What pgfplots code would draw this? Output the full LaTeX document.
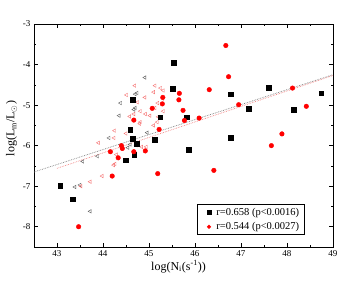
\documentclass[border=0pt]{standalone}
\usepackage{fontspec}
\setmainfont{Liberation Serif}
\usepackage{pgfplots}
\pgfplotsset{compat=1.18}
\definecolor{tri1}{RGB}{90,90,90}
\definecolor{tri2}{RGB}{245,110,110}
\definecolor{line2}{RGB}{240,130,130}
\begin{document}
\begin{tikzpicture}[x=1pt,y=1pt]
\path[use as bounding box] (-34,-35) rectangle (320,247);
\begin{axis}[
  at={(0,0)}, anchor=south west,
  scale only axis, width=299pt, height=223pt,
  xmin=42.5, xmax=49, ymin=-8.5, ymax=-3,
  xtick={43,44,45,46,47,48,49},
  ytick={-8,-7,-6,-5,-4,-3},
  minor x tick num=1, minor y tick num=1,
  tick align=inside,
  major tick length=4pt, minor tick length=2.2pt,
  axis line style={line width=0.8pt},
  every tick/.style={line width=0.6pt, black},
  /pgf/number format/assume math mode=true,
  tick label style={font=\fontsize{9}{10}\selectfont},
  xlabel={log(N\textsubscript{i}(s\textsuperscript{-1}))},
  ylabel={log(L\textsubscript{m}/L\textsubscript{$\odot$})},
  label style={font=\fontsize{12}{13}\selectfont},
  xlabel style={yshift=3pt, xshift=-5pt},
  ylabel style={yshift=-1pt, xshift=7pt},
  legend style={at={(0.545,0.054)}, anchor=south west, font=\fontsize{10.5}{12}\selectfont, draw=black, line width=0.5pt, row sep=1.5pt, inner xsep=3pt, inner ysep=1.5pt},
  legend image code/.code={\path (-0.3cm,0) (0.18cm,0); \draw[#1,mark size=1.8pt] plot coordinates {(0cm,0cm)};},
  legend cell align=left,
  clip=false,
]
\addplot[tri1, only marks, mark=triangle, mark size=2pt, mark options={rotate=90, line width=0.4pt}, forget plot] coordinates {
(44.91,-4.32) (44.74,-4.70) (44.70,-4.73) (44.38,-4.95) (44.70,-5.07) (44.67,-5.11)
(44.35,-5.26) (44.96,-5.68) (44.13,-5.81) (44.54,-6.05) (43.88,-6.26) (43.56,-6.39)
(43.50,-6.97) (43.39,-7.02) (43.72,-7.62) (44.59,-5.97)
};
\addplot[tri2, only marks, mark=triangle, mark size=2pt, mark options={rotate=90, line width=0.4pt}, forget plot] coordinates {
(44.69,-4.52) (45.13,-4.52) (45.25,-4.58) (45.31,-4.64) (45.10,-4.68) (44.91,-4.81)
(44.51,-4.75) (45.30,-4.84) (45.19,-4.95) (45.13,-5.07) (44.75,-4.93) (44.81,-5.15)
(44.92,-5.22) (45.31,-5.15) (44.67,-5.22) (45.02,-5.26) (45.20,-5.29) (44.58,-5.28)
(44.81,-5.42) (45.18,-5.42) (45.10,-5.50) (44.25,-5.63) (44.24,-5.81) (44.50,-5.70)
(44.72,-5.99) (44.84,-6.03) (44.94,-6.03) (43.90,-5.93) (44.29,-6.22) (44.26,-6.45)
(44.23,-6.48) (43.98,-6.75) (43.72,-6.89) (43.52,-7.00) (44.80,-5.46)
};
\addplot[tri1!80, densely dotted, line width=0.7pt, forget plot] coordinates {(42.5,-6.65) (49,-4.25)};
\addplot[line2, densely dotted, line width=0.7pt, forget plot] coordinates {(43.0,-6.56) (49,-4.27)};
\addplot[black, only marks, mark=square*, mark size=2.3pt] coordinates {
(45.54,-3.95) (45.51,-4.59) (44.64,-4.87) (46.78,-4.73) (47.60,-4.57) (47.17,-5.09)
(48.15,-5.11) (48.74,-4.71) (45.24,-5.30) (45.82,-5.30) (44.59,-5.60) (44.64,-5.83)
(45.13,-5.86) (46.77,-5.80) (44.73,-5.95) (45.86,-6.10) (44.49,-6.36) (44.68,-6.22)
(43.07,-6.99) (43.34,-7.32)
};
\addlegendentry{r=0.658 (p<0.0016)}
\addplot[red, only marks, mark=*, mark size=2.3pt] coordinates {
(46.67,-3.53) (46.73,-4.30) (46.31,-4.62) (45.66,-4.71) (45.65,-4.87) (45.30,-4.81)
(45.29,-4.97) (45.07,-5.08) (45.74,-5.13) (45.77,-5.38) (46.09,-5.32) (44.67,-5.37)
(45.22,-5.60) (46.95,-4.99) (48.12,-4.58) (48.42,-5.03) (47.89,-5.71) (47.66,-6.00)
(46.41,-6.61) (44.40,-6.00) (44.42,-6.07) (44.16,-6.15) (44.33,-6.30) (44.67,-6.15)
(44.92,-6.13) (44.20,-6.75) (45.19,-6.69) (43.47,-8.00)
};
\addlegendentry{r=0.544 (p<0.0027)}
\end{axis}
\end{tikzpicture}
\end{document}
